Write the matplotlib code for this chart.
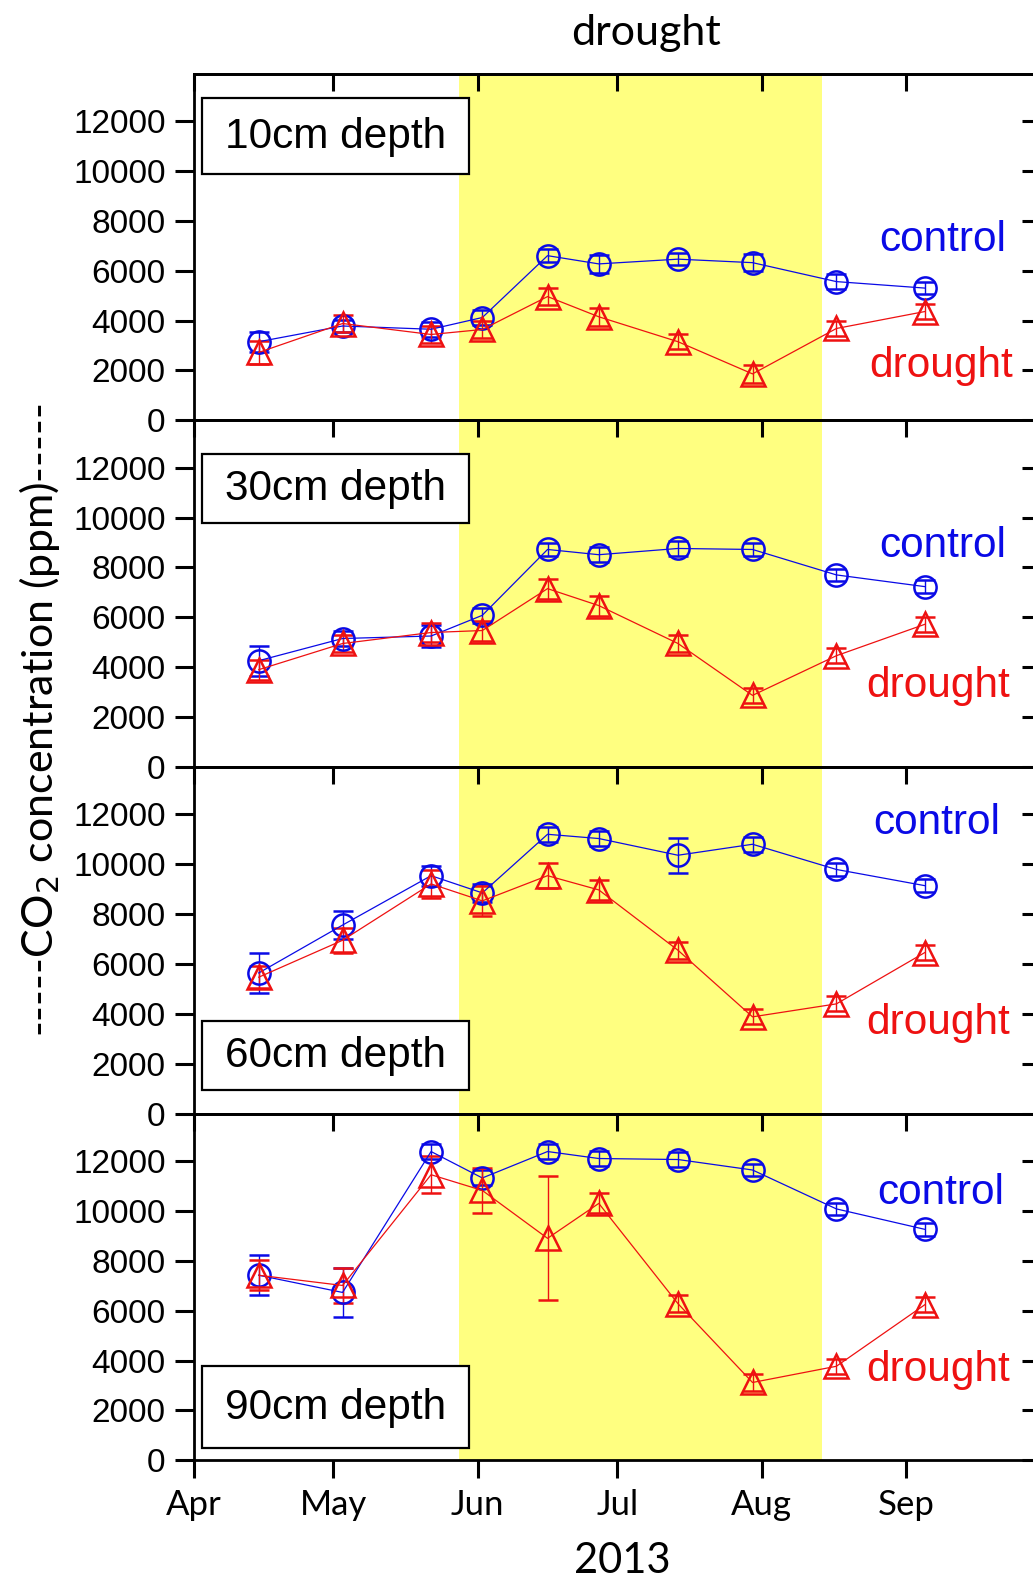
import numpy as np
import matplotlib
matplotlib.use("Agg")
import matplotlib.pyplot as plt
import matplotlib.dates as mdates
from matplotlib.patches import Rectangle

# ---- data -----------------------------------------------------------------
dates = np.array(["2013-04-15", "2013-05-03", "2013-05-22", "2013-06-02",
                  "2013-06-16", "2013-06-27", "2013-07-14", "2013-07-30",
                  "2013-08-17", "2013-09-05"], dtype="datetime64[D]")

depths = ["10cm depth", "30cm depth", "60cm depth", "90cm depth"]

control_10 = [3150, 3780, 3650, 4120, 6600, 6270, 6460, 6320, 5560, 5300]
control_30 = [4260, 5150, 5250, 6080, 8720, 8510, 8760, 8720, 7700, 7230]
control_60 = [5640, 7560, 9540, 8850, 11200, 11030, 10360, 10800, 9790, 9140]
control_90 = [7420, 6730, 12380, 11320, 12380, 12100, 12060, 11640, 10080, 9260]

drought_10 = [2720, 3880, 3440, 3640, 4960, 4150, 3150, 1860, 3680, 4360]
drought_30 = [3900, 4950, 5390, 5470, 7150, 6470, 4950, 2870, 4460, 5720]
drought_60 = [5470, 6950, 9210, 8530, 9540, 8970, 6550, 3880, 4400, 6460]
drought_90 = [7420, 7010, 11450, 10820, 8900, 10300, 6280, 3120, 3770, 6240]

control_err_10 = [400, 250, 300, 300, 250, 350, 250, 350, 300, 250]
control_err_30 = [600, 300, 450, 300, 250, 300, 300, 250, 250, 250]
control_err_60 = [800, 550, 400, 350, 300, 300, 700, 300, 250, 250]
control_err_90 = [800, 1000, 300, 300, 300, 300, 300, 250, 250, 250]

drought_err_10 = [450, 350, 350, 350, 350, 350, 300, 350, 300, 300]
drought_err_30 = [400, 350, 400, 400, 400, 400, 350, 300, 300, 300]
drought_err_60 = [450, 500, 550, 600, 500, 400, 350, 300, 300, 300]
drought_err_90 = [600, 700, 750, 900, 2480, 400, 350, 350, 300, 300]

control = [control_10, control_30, control_60, control_90]
drought = [drought_10, drought_30, drought_60, drought_90]
control_err = [control_err_10, control_err_30, control_err_60, control_err_90]
drought_err = [drought_err_10, drought_err_30, drought_err_60, drought_err_90]

drought_start = np.datetime64("2013-05-28")
drought_end = np.datetime64("2013-08-14")

month_ticks = np.array(["2013-04-01", "2013-05-01", "2013-06-01", "2013-07-01",
                        "2013-08-01", "2013-09-01", "2013-10-01"], dtype="datetime64[D]")
month_labels = ["Apr", "May", "Jun", "Jul", "Aug", "Sep", ""]
y_ticks = [0, 2000, 4000, 6000, 8000, 10000, 12000]

# ---- styling ----------------------------------------------------------------
W, H = 1033, 1580
BLUE = "#0a0ae6"
RED = "#ee1111"
YELLOW = "#ffff80"
SANS = ["Liberation Sans", "DejaVu Sans"]
NARROW = ["Lato", "Liberation Sans", "DejaVu Sans"]

plt.rcParams["font.family"] = SANS
plt.rcParams["axes.linewidth"] = 2.0

fig = plt.figure(figsize=(W / 100, H / 100), dpi=100)

left_px, right_px = 193.5, 1046.0
top_px, bottom_px = 73.6, 1460.3
panel_h = (bottom_px - top_px) / 4


def to_num(arr):
    return mdates.date2num(np.asarray(arr).astype("datetime64[s]").astype(object))


x_num = to_num(dates)
tick_num = to_num(month_ticks)
span_num = to_num([drought_start, drought_end])

# text placement per panel (figure pixels from top): box top/bottom, control y, drought y
box_rows = [(97.8, 174.4), (453.5, 523.0), (1021.0, 1090.0), (1365.6, 1448.0)]
ctrl_y = [240, 546, 823, 1193]
drt_y = [366, 686, 1023, 1370]
ctrl_x = [1006, 1006, 1000, 1004]
drt_x = [1013, 1010, 1010, 1010]

for i in range(4):
    y0 = H - (top_px + (i + 1) * panel_h)
    ax = fig.add_axes([left_px / W, y0 / H, (right_px - left_px) / W, panel_h / H])
    ax.set_xlim(tick_num[0], tick_num[-1])
    ax.set_ylim(0, 13900)
    ax.axvspan(span_num[0], span_num[1], color=YELLOW, lw=0, zorder=0)

    ax.errorbar(x_num, control[i], yerr=control_err[i], fmt="o-", color=BLUE,
                mfc="none", mec=BLUE, ms=16, mew=1.8, lw=0.9, elinewidth=1.0,
                ecolor=BLUE, capsize=7, capthick=1.0, zorder=3)
    ax.errorbar(x_num, drought[i], yerr=drought_err[i], fmt="^-", color=RED,
                mfc="none", mec=RED, ms=17.5, mew=1.8, lw=0.9, elinewidth=1.0,
                ecolor=RED, capsize=7, capthick=1.0, zorder=3)

    # y axis: outward ticks on the left, inward ticks on the right
    ax.set_yticks(y_ticks)
    ax.set_yticklabels([str(v) for v in y_ticks], fontsize=24)
    ax.tick_params(axis="y", direction="out", length=14, width=2.2, pad=6,
                   left=True, right=False)
    ry = ax.secondary_yaxis("right")
    ry.set_yticks(y_ticks)
    ry.tick_params(axis="y", direction="in", length=17, width=2.2, labelright=False)

    # x axis: inward ticks on top of every panel, outward labelled ticks at the bottom
    ax.set_xticks(tick_num)
    ax.set_xticklabels(month_labels if i == 3 else [""] * len(month_labels),
                       fontsize=25, family=NARROW)
    ax.tick_params(axis="x", direction="out", length=13, width=2.2, pad=8,
                   bottom=(i == 3), labelbottom=(i == 3), top=False)
    tx = ax.secondary_xaxis("top")
    tx.set_xticks(tick_num)
    tx.tick_params(axis="x", direction="in", length=12, width=2.2, labeltop=False)

    # depth label box
    bt, bb = box_rows[i]
    fig.patches.append(Rectangle((201.6 / W, 1 - bb / H), (468.6 - 201.6) / W, (bb - bt) / H,
                                 transform=fig.transFigure, facecolor="white",
                                 edgecolor="black", lw=1.6, zorder=5))
    fig.text(335.5 / W, 1 - ((bt + bb) / 2 + 1) / H, depths[i], fontsize=30.5,
             ha="center", va="center", zorder=6)

    fig.text(ctrl_x[i] / W, 1 - ctrl_y[i] / H, "control", color=BLUE, fontsize=30.5,
             ha="right", va="center")
    fig.text(drt_x[i] / W, 1 - drt_y[i] / H, "drought", color=RED, fontsize=30.5,
             ha="right", va="center")

fig.text(646 / W, 1 - 33 / H, "drought", fontsize=31, ha="center", va="center",
         family=NARROW)
fig.text(622 / W, 1 - 1561 / H, "2013", fontsize=30, ha="center", va="center",
         family=NARROW)
fig.text(40 / W, 1 - 720 / H, "-----CO$_2$ concentration (ppm)-----", fontsize=31,
         rotation=90, ha="center", va="center", family=NARROW)

fig.savefig("out.png", dpi=100)
